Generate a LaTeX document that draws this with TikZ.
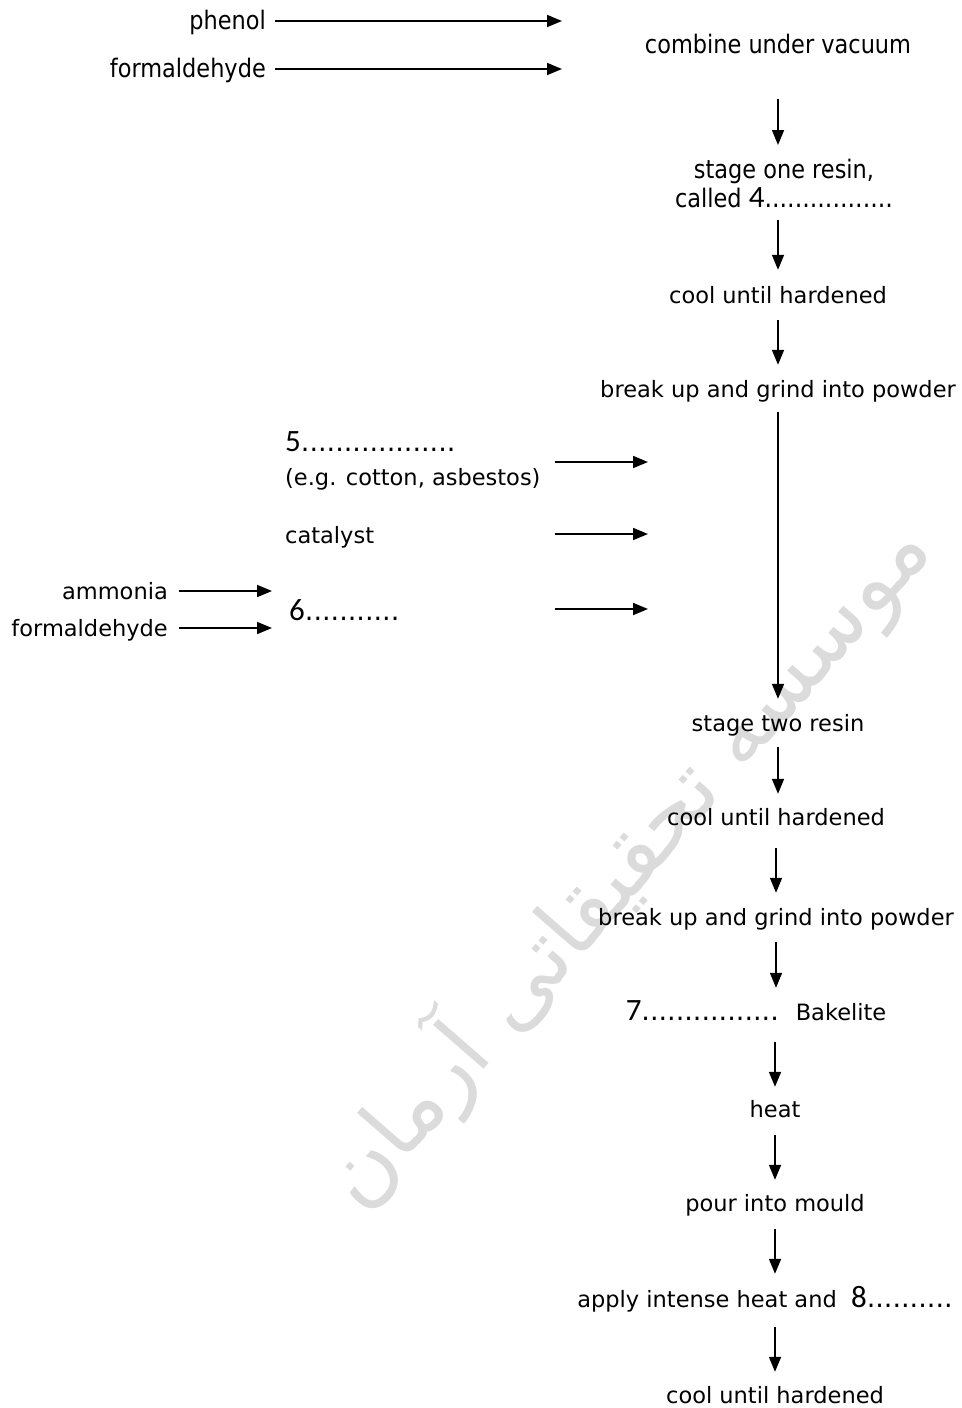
\documentclass[tikz,border=0pt]{standalone}
\usepackage{fontspec}
\setmainfont{DejaVu Sans}
\newfontfamily\narrowfont[FakeStretch=0.88]{DejaVu Sans}
\newfontfamily\digitfont{Carlito}
\newfontfamily\arabicfont[Script=Arabic]{DejaVu Sans}
\TeXXeTstate=1
\usetikzlibrary{arrows.meta}

\tikzset{
  txt/.style={inner sep=0pt, font=\fontsize{22.5}{27}\selectfont, text height=17pt, text depth=5pt},
  toptxt/.style={txt, font=\narrowfont\fontsize{25.5}{30}\selectfont},
  flow/.style={line width=1.7pt, -{Triangle[length=15pt,width=12pt]}},
}
\newcommand{\answerno}[2]{{\digitfont\fontsize{31}{31}\selectfont #1}{\fontsize{27}{27}\selectfont #2}}

\begin{document}
\begin{tikzpicture}[x=1pt,y=-1pt]
\useasboundingbox (0,0) rectangle (961,1408);

% watermark
\node[rotate=49, text=gray!28, inner sep=0pt, font=\arabicfont\fontsize{88}{88}\selectfont] (mark) at (624,862) {\beginR موسسه تحقیقاتی آرمان\endR};

% stage one
\node[toptxt, anchor=east] (phenol) at (266,23) {phenol};
\node[toptxt, anchor=east] (formA) at (266,71) {formaldehyde};
\coordinate (phenolin) at (562,21);
\coordinate (formAin) at (562,69);
\node[toptxt] (combine) at (778,47) {combine under vacuum};
\node[inner sep=0pt, align=center, anchor=north, font=\narrowfont\fontsize{25.5}{29}\selectfont] (stageone) at (784,159) {stage one resin,\\called \answerno{4}{.................}};
\node[txt] (cool1) at (778,297) {cool until hardened};
\node[txt] (grind1) at (778,391) {break up and grind into powder};

% additions
\node[inner sep=0pt, align=left, anchor=north west, font=\fontsize{22.5}{34}\selectfont] (filler) at (285,431) {\answerno{5}{..................}\\(e.g. cotton, asbestos)};
\coordinate (fillerout) at (555,462);
\coordinate (fillerin) at (648,462);
\node[txt, anchor=west] (catalyst) at (285,537) {catalyst};
\coordinate (catout) at (555,534);
\coordinate (catin) at (648,534);
\node[txt, anchor=east] (ammonia) at (168,593) {ammonia};
\node[txt, anchor=east] (formB) at (168,630) {formaldehyde};
\node[txt, anchor=west] (six) at (289,614) {\answerno{6}{...........}};
\coordinate (sixout) at (555,609);
\coordinate (sixin) at (648,609);

% stage two
\node[txt] (stagetwo) at (778,725) {stage two resin};
\node[txt] (cool2) at (776,819) {cool until hardened};
\node[txt] (grind2) at (776,919) {break up and grind into powder};
\node[txt] (bakelite) at (756,1014) {\answerno{7}{................}\hspace{17pt}Bakelite};
\node[txt] (heat) at (775,1111) {heat};
\node[txt] (mould) at (775,1205) {pour into mould};
\node[txt] (press) at (765,1301) {apply intense heat and \ \answerno{8}{..........}};
\node[txt] (cool3) at (775,1397) {cool until hardened};

% inputs
\draw[flow, shorten <=9pt] (phenol.east |- phenolin) -- (phenolin);
\draw[flow, shorten <=9pt] (formA.east |- formAin) -- (formAin);
\draw[flow] (fillerout) -- (fillerin);
\draw[flow] (catout) -- (catin);
\draw[flow] (sixout) -- (sixin);
\draw[flow, shorten <=11pt, shorten >=17pt] (ammonia.east |- 0,591) -- (six.west |- 0,591);
\draw[flow, shorten <=11pt, shorten >=17pt] (formB.east |- 0,628) -- (six.west |- 0,628);

% main flow
\draw[flow, shorten <=41pt, shorten >=14pt] (combine.south) -- (combine.south |- stageone.north);
\draw[flow, shorten <=12pt, shorten >=16pt] (cool1.north |- stageone.south) -- (cool1.north);
\draw[flow, shorten <=12pt, shorten >=15pt] (cool1.south) -- (grind1.north);
\draw[flow, shorten <=10pt, shorten >=15pt] (grind1.south) -- (stagetwo.north);
\draw[flow, shorten <=11pt, shorten >=14pt] (stagetwo.south) -- (cool2.north -| stagetwo);
\draw[flow, shorten <=18pt, shorten >=15pt] (cool2.south) -- (grind2.north);
\draw[flow, shorten <=12pt, shorten >=15pt] (grind2.south) -- (grind2.south |- bakelite.north);
\draw[flow, shorten <=17pt, shorten >=13pt] (heat.north |- bakelite.south) -- (heat.north);
\draw[flow, shorten <=13pt, shorten >=14pt] (heat.south) -- (mould.north);
\draw[flow, shorten <=13pt, shorten >=16pt] (mould.south) -- (mould.south |- press.north);
\draw[flow, shorten <=15pt, shorten >=14pt] (cool3.north |- press.south) -- (cool3.north);
\end{tikzpicture}
\end{document}
